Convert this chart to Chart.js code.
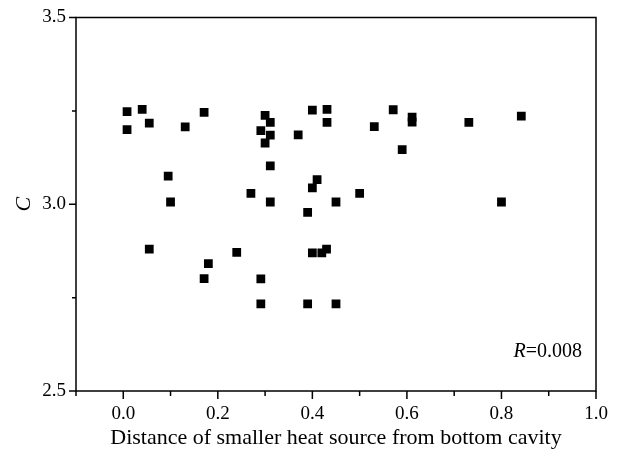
<!DOCTYPE html>
<html>
<head>
<meta charset="utf-8">
<script src="https://cdn.jsdelivr.net/npm/chart.js@4/dist/chart.umd.min.js"></script>
<style>
html,body{margin:0;padding:0;background:#fff;}
#wrap{width:621px;height:458px;}
</style>
</head>
<body>
<div id="wrap"><canvas id="c" width="621" height="458"></canvas></div>
<script>
const xValues = [0.008,0.040,0.055,0.008,0.131,0.171,0.300,0.311,0.291,0.311,0.300,0.370,0.400,0.431,0.431,0.531,0.571,0.611,0.611,0.731,0.842,0.590,0.311,0.095,0.410,0.400,0.270,0.500,0.100,0.311,0.450,0.800,0.390,0.055,0.240,0.430,0.400,0.420,0.180,0.171,0.291,0.291,0.390,0.450];
const yValues = [3.248,3.254,3.217,3.200,3.207,3.246,3.238,3.219,3.197,3.185,3.164,3.186,3.252,3.254,3.219,3.208,3.253,3.233,3.220,3.219,3.236,3.146,3.103,3.075,3.066,3.044,3.029,3.029,3.006,3.006,3.006,3.006,2.978,2.880,2.871,2.880,2.870,2.870,2.841,2.801,2.800,2.733,2.733,2.733];
const xTickLabels = ['0.0','0.2','0.4','0.6','0.8','1.0'];
const yTickLabels = ['2.5','3.0','3.5'];
const xTitle = 'Distance of smaller heat source from bottom cavity';
const yTitle = 'C';
const rLabelName = 'R';
const rLabelValue = '=0.008';

const points = xValues.map((x,i)=>({x:x,y:yValues[i]}));
const fmt = v => (Math.abs(v)<1e-9?0:v).toFixed(1);
const FONT = "'Liberation Serif', 'Times New Roman', serif";

const framePlugin = {
  id:'frame',
  afterDraw(chart){
    const ctx = chart.ctx, a = chart.chartArea;
    const xs = chart.scales.x, ys = chart.scales.y;
    ctx.save();
    ctx.strokeStyle = '#000';
    ctx.lineWidth = 1.5;
    ctx.strokeRect(a.left, a.top, a.right-a.left, a.bottom-a.top);
    ctx.beginPath();
    xs.ticks.forEach(t=>{
      const px = xs.getPixelForValue(t.value);
      const major = xTickLabels.includes(fmt(t.value));
      ctx.moveTo(px, a.bottom);
      ctx.lineTo(px, a.bottom + (major?8:5));
    });
    ys.ticks.forEach(t=>{
      const py = ys.getPixelForValue(t.value);
      const major = yTickLabels.includes(fmt(t.value));
      ctx.moveTo(a.left, py);
      ctx.lineTo(a.left - (major?7:4), py);
    });
    ctx.stroke();
    // R label
    ctx.fillStyle = '#000';
    ctx.textBaseline = 'middle';
    ctx.textAlign = 'left';
    const ly = ys.getPixelForValue(2.605);
    ctx.font = "20px " + FONT;
    const w2 = ctx.measureText(rLabelValue).width;
    ctx.font = "italic 20px " + FONT;
    const w1 = ctx.measureText(rLabelName).width;
    const rx = a.right - 14 - w1 - w2;
    ctx.fillText(rLabelName, rx, ly);
    ctx.font = "20px " + FONT;
    ctx.fillText(rLabelValue, rx + w1, ly);
    ctx.restore();
  }
};

new Chart(document.getElementById('c'), {
  type:'scatter',
  data:{datasets:[{data:points, pointStyle:'rect', pointRadius:6.2, pointBorderWidth:0, backgroundColor:'#000', borderColor:'#000'}]},
  options:{
    responsive:false, animation:false, devicePixelRatio:1,
    layout:{padding:{top:17.5,right:25,left:0,bottom:0}},
    plugins:{legend:{display:false},tooltip:{enabled:false}},
    scales:{
      x:{type:'linear',min:-0.1,max:1.0,
        afterFit(s){ s.height = 67; },
        grid:{display:false}, border:{display:false},
        ticks:{stepSize:0.1,autoSkip:false,maxRotation:0,color:'#000',padding:4,
          font:{family:FONT,size:19},
          callback:v=>{const l=fmt(v);return xTickLabels.includes(l)?l:'';}},
        title:{display:true,text:xTitle,color:'#000',font:{family:FONT,size:22},padding:{top:0,bottom:7}}
      },
      y:{type:'linear',min:2.5,max:3.5,
        afterFit(s){ s.width = 76; },
        grid:{display:false}, border:{display:false},
        ticks:{stepSize:0.25,autoSkip:false,color:'#000',padding:2,
          font:{family:FONT,size:19},
          callback:v=>{const l=fmt(v);return yTickLabels.includes(l)?l:'';}},
        title:{display:true,text:yTitle,color:'#000',font:{family:FONT,size:22,style:'italic'},padding:{top:11,bottom:0}}
      }
    }
  },
  plugins:[framePlugin]
});
</script>
</body>
</html>
